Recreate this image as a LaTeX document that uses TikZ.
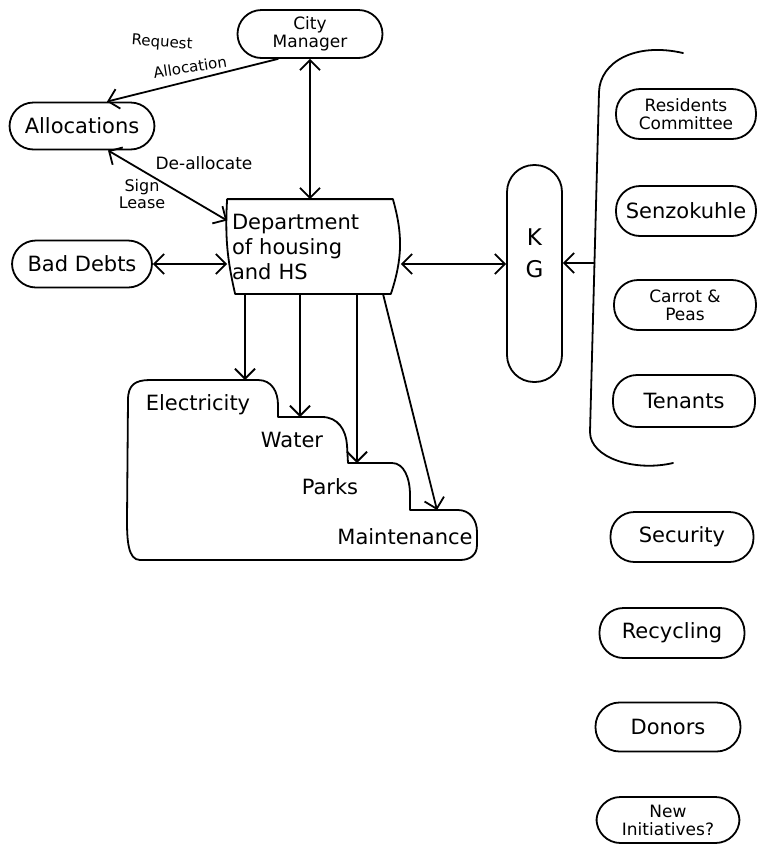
\documentclass[tikz,border=0pt]{standalone}
\usepackage{fontspec}
\setmainfont{DejaVu Sans}
\usetikzlibrary{arrows.meta}
\begin{document}
\begin{tikzpicture}[x=1pt,y=-1pt,
  line width=1.8pt, line join=round, line cap=round,
  >={Straight Barb[length=10pt,width=20pt,line width=1.8pt]},
  pill/.style={draw, rounded corners=24pt, minimum height=48pt, inner sep=2pt, align=center},
  big/.style={font=\fontsize{21}{25}\selectfont},
  small/.style={font=\fontsize{17}{18}\selectfont},
  lbl/.style={font=\fontsize{16}{17}\selectfont, align=center, inner sep=0pt},
]
\useasboundingbox[fill=white] (0,0) rectangle (757,847);

% left-hand units
\node[pill, small, minimum width=145pt] (cm) at (310,34) {City\\Manager};
\node[pill, big, minimum width=145pt, minimum height=47pt] (alloc) at (82,126) {Allocations};
\node[pill, big, minimum width=140pt, minimum height=47pt] (bd) at (82,264) {Bad Debts};

% department box with bulging sides
\node[big, minimum width=170pt, minimum height=93pt, text width=162pt, align=left, inner sep=0pt]
  (dept) at (313,246.5) {Department\\of housing\\and HS};
\draw (dept.north west) -- ([xshift=-6pt]dept.north east)
  to[bend left=17] ([xshift=-8pt]dept.south east)
  -- ([xshift=8pt]dept.south west) to[bend left=8] (dept.north west);

% KG column
\node[draw, rounded corners=27pt, minimum width=55pt, minimum height=217pt] (kg) at (534.5,273.5) {};
\node[font=\fontsize{23}{32}\selectfont, align=center] (kglabel) at ([yshift=20pt]kg.center) {K\\G};

% stakeholder groups
\node[pill, small, minimum width=140pt, minimum height=50pt] (rc) at (686,114) {Residents\\Committee};
\node[pill, big, minimum width=140pt, minimum height=50pt] (sz) at (686,211) {Senzokuhle};
\node[pill, small, minimum width=142pt, minimum height=50pt] (cp) at (685,305) {Carrot \&\\Peas};
\node[pill, big, minimum width=142pt, minimum height=52pt] (ten) at (684,401) {Tenants};
\node[pill, big, minimum width=143pt, minimum height=50pt] (sec) at (682,537) {Security};
\node[pill, big, minimum width=145pt, minimum height=50pt] (rec) at (672,633) {Recycling};
\node[pill, big, minimum width=145pt, minimum height=49pt] (don) at (668,727) {Donors};
\node[pill, small, minimum width=143pt, minimum height=46pt] (newi) at (668,820) {New\\Initiatives?};

% bracket grouping the first four groups
\draw (683,53) .. controls (635,42) and (600,62) .. (599,92) -- (590,432)
  .. controls (590,458) and (635,472) .. (673,463);
\coordinate (brk) at (594.5,263);
\draw[->] (brk) -- (brk -| kg.east);

% services cloud
\draw (140,560) .. controls (128,560) and (127,540) .. (127,520) -- (128,400)
  .. controls (128,385) and (135,380) .. (150,380) -- (258,380)
  .. controls (272,380) and (278,392) .. (278,405) -- (278,417) -- (322,417)
  .. controls (338,417) and (346,430) .. (347,445) -- (348,463) -- (392,463)
  .. controls (404,463) and (410,478) .. (410,495) -- (410,510) -- (458,510)
  .. controls (470,510) and (477,520) .. (477,532) -- (477,545)
  .. controls (477,555) and (470,560) .. (460,560) -- cycle;
\node[big] (elec) at (198,405) {Electricity};
\node[big] (wat) at (292,440) {Water};
\node[big] (prk) at (330,487) {Parks};
\node[big] (mnt) at (405,537) {Maintenance};
\coordinate (e1) at (245,380);
\coordinate (e2) at (300,417);
\coordinate (e3) at (357,463);
\coordinate (e4) at (437,510);

% connectors
\draw[->] ([xshift=-32pt]cm.south) -- ([xshift=25pt]alloc.north);
\draw[<->] (cm.south) -- (cm.south |- dept.north);
\draw[<->] ([xshift=26pt]alloc.south) -- ([yshift=26pt]dept.west);
\draw[<->] (bd.east) -- (bd.east -| dept.west);
\coordinate (dr) at ([xshift=2pt,yshift=-17.5pt]dept.east);
\draw[<->] (dr) -- (dr -| kg.west);
\draw[->] (dept.south -| e1) -- (e1);
\draw[->] (dept.south -| e2) -- (e2);
\draw[->] (dept.south -| e3) -- (e3);
\draw[->] ([xshift=70pt]dept.south) -- (e4);

% connector labels
\node[lbl, font=\fontsize{15}{16}\selectfont, rotate=-4] (reqlbl) at (162,43) {Request};
\node[lbl, font=\fontsize{15}{16}\selectfont, rotate=9] (alclbl) at (190,67) {Allocation};
\node[lbl, font=\fontsize{17}{18}\selectfont] (dealbl) at (204,163) {De-allocate};
\node[lbl] (signlbl) at (142,194) {Sign\\Lease};
\end{tikzpicture}
\end{document}
